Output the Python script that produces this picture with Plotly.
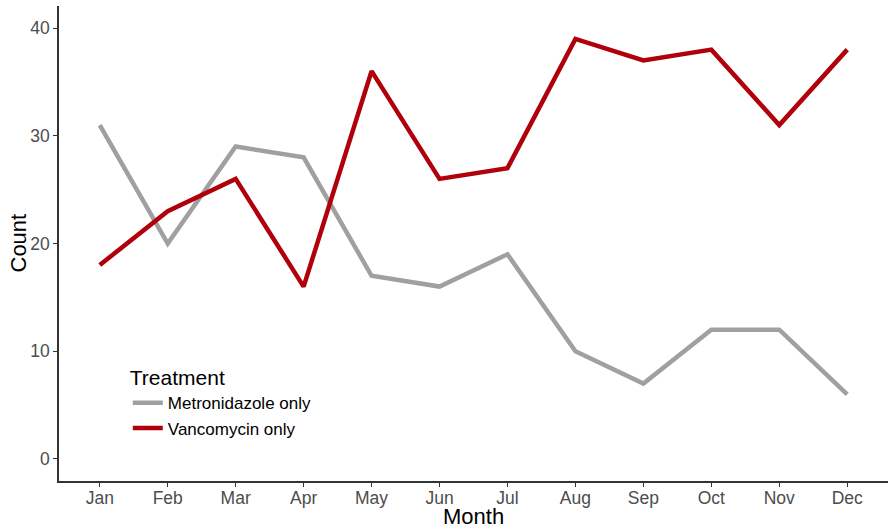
import plotly.graph_objects as go

months = ['Jan', 'Feb', 'Mar', 'Apr', 'May', 'Jun', 'Jul', 'Aug', 'Sep', 'Oct', 'Nov', 'Dec']
metronidazole = [31, 20, 29, 28, 17, 16, 19, 10, 7, 12, 12, 6]
vancomycin = [18, 23, 26, 16, 36, 26, 27, 39, 37, 38, 31, 38]
y_ticks = [0, 10, 20, 30, 40]

x_pos = list(range(1, len(months) + 1))

fig = go.Figure()

fig.add_trace(go.Scatter(
    x=x_pos,
    y=metronidazole,
    mode='lines',
    name='Metronidazole only',
    line=dict(color='#a0a0a0', width=4.5)
))

fig.add_trace(go.Scatter(
    x=x_pos,
    y=vancomycin,
    mode='lines',
    name='Vancomycin only',
    line=dict(color='#b0000c', width=4.5)
))

axis_style = dict(
    showgrid=False,
    zeroline=False,
    showline=True,
    linecolor='#333333',
    linewidth=1.5,
    ticks='outside',
    ticklen=4,
    tickcolor='#333333',
    tickfont=dict(size=17.5, color='#4d4d4d'),
    automargin=False
)

fig.update_layout(
    width=894,
    height=531,
    paper_bgcolor='white',
    plot_bgcolor='white',
    margin=dict(l=59, r=6, t=6, b=50),
    font=dict(family='Liberation Sans, Arial, sans-serif', color='#4d4d4d'),
    showlegend=True,
    legend=dict(
        x=0.083, y=0.259, xanchor='left', yanchor='top',
        title=dict(text='Treatment', font=dict(size=21, color='black')),
        font=dict(size=17, color='black'),
        bgcolor='rgba(0,0,0,0)',
        itemwidth=30,
        tracegroupgap=0
    ),
    xaxis=dict(range=[0.4, 12.6], tickmode='array', tickvals=x_pos, ticktext=months,
               ticklabelstandoff=-4, **axis_style),
    yaxis=dict(range=[-2.05, 42.05], tickmode='array', tickvals=y_ticks, **axis_style),
    annotations=[
        dict(text='Month', xref='paper', yref='paper', x=0.5, y=-50 / 475,
             xanchor='center', yanchor='bottom', showarrow=False,
             font=dict(size=22, color='black')),
        dict(text='Count', xref='paper', yref='paper', x=0, y=0.5, xshift=-41,
             xanchor='center', yanchor='middle', textangle=-90, showarrow=False,
             font=dict(size=22, color='black'))
    ]
)

# drop the default page margin so the figure sits at the window's top-left corner
fig.write_html("out.html", config={'displayModeBar': False},
               post_script="document.body.style.margin='0';")
